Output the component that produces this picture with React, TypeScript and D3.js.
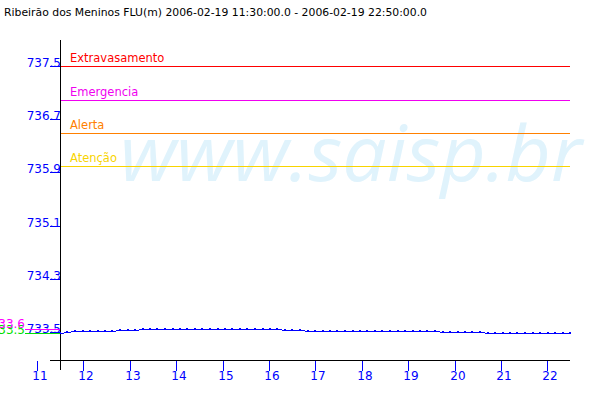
import React from "react";
import * as d3 from "d3";

const TITLE = "Ribeirão dos Meninos FLU(m) 2006-02-19 11:30:00.0 - 2006-02-19 22:50:00.0";
const WATERMARK = "www.saisp.br";

// 10-minute readings from 11:30 to 22:50
const START_HOUR = 11.5;
const STEP_HOURS = 10 / 60;
const levels: number[] = [
  733.50, 733.51,
  733.53, 733.53, 733.53, 733.53, 733.53, 733.53,
  733.55, 733.55, 733.55,
  733.56, 733.56, 733.56, 733.56, 733.56, 733.56, 733.56, 733.56, 733.56, 733.56,
  733.56, 733.56, 733.56, 733.56, 733.56, 733.56, 733.56, 733.56, 733.56,
  733.55, 733.55, 733.55,
  733.53, 733.53, 733.53, 733.53, 733.53, 733.53, 733.53, 733.53, 733.53,
  733.53, 733.53, 733.53, 733.53, 733.53, 733.53, 733.53, 733.53, 733.53,
  733.52, 733.52, 733.52, 733.52, 733.52, 733.52,
  733.50, 733.50, 733.50, 733.50, 733.50, 733.50, 733.50, 733.50, 733.50, 733.50, 733.50, 733.50,
];

const thresholdNames = ["Extravasamento", "Emergencia", "Alerta", "Atenção"];
const thresholdValues = [737.5, 737.0, 736.5, 736.0];
const thresholdColors = ["#ff0000", "#f000f0", "#ff8000", "#f8d400"];

const yTicks = [733.5, 734.3, 735.1, 735.9, 736.7, 737.5];
const xTickHours = [11, 12, 13, 14, 15, 16, 17, 18, 19, 20, 21, 22];

const FONT = "'DejaVu Sans', sans-serif";
const BLUE = "#0000ff";

export default function App() {
  const W = 600, H = 400;
  const y = d3.scaleLinear().domain([733.1, 737.9]).range([360, 40]);
  const xData = d3.scaleLinear().domain([START_HOUR, START_HOUR + STEP_HOURS * (levels.length - 1)]).range([60, 570]);
  const xTick = d3.scaleLinear().domain([11, 22]).range([37, 547.3]);

  const pts = levels.map((v, i) => ({ h: START_HOUR + i * STEP_HOURS, v }));
  const px = (h: number) => Math.round(xData(h));
  const py = (v: number) => Math.floor(y(v));
  const line = d3.line<{ h: number; v: number }>().x((d) => px(d.h) + 0.5).y((d) => py(d.v) + 0.5);

  const maxV = d3.max(levels) as number;
  const minV = d3.min(levels) as number;
  const fmt = d3.format(".1f");

  return (
    <svg width={W} height={H} style={{ position: "absolute", left: 0, top: 0, background: "#fff" }} fontFamily={FONT}>
      <rect x={0} y={0} width={W} height={H} fill="#fff" />
      <text x={4} y={16} fontSize={11} fill="#000" textLength={423} lengthAdjust="spacingAndGlyphs">{TITLE}</text>

      <text x={120} y={181} fontSize={77} fontStyle="italic" fontFamily="'Open Sans', sans-serif" fill="#e0f3fc" textLength={462} lengthAdjust="spacingAndGlyphs">{WATERMARK}</text>

      {thresholdValues.map((t, i) => {
        const row = Math.round(y(t) - 0.2);
        return (
          <g key={thresholdNames[i]}>
            <line x1={60} x2={570} y1={row + 0.5} y2={row + 0.5} stroke={thresholdColors[i]} strokeWidth={1} shapeRendering="crispEdges" />
            <text x={70} y={row - 4} fontSize={11.5} fill={thresholdColors[i]}>{thresholdNames[i]}</text>
          </g>
        );
      })}

      {/* axes */}
      <line x1={60.5} x2={60.5} y1={40} y2={370} stroke="#000" shapeRendering="crispEdges" />
      <line x1={50} x2={570} y1={360.5} y2={360.5} stroke="#000" shapeRendering="crispEdges" />

      {yTicks.map((t) => {
        const yy = Math.round(y(t));
        return (
          <g key={t}>
            <line x1={50} x2={60} y1={yy - 0.5} y2={yy - 0.5} stroke={BLUE} shapeRendering="crispEdges" />
            <text x={61} y={yy} fontSize={12} fill={BLUE} textAnchor="end">{fmt(t)}</text>
          </g>
        );
      })}

      {xTickHours.map((h) => {
        const xx = Math.round(xTick(h));
        return (
          <g key={h}>
            <line x1={xx + 0.5} x2={xx + 0.5} y1={361} y2={371} stroke={BLUE} shapeRendering="crispEdges" />
            <text x={xx + 3} y={380} fontSize={12} fill={BLUE} textAnchor="middle">{h}</text>
          </g>
        );
      })}

      {/* min / max markers */}
      <line x1={25} x2={60} y1={py(minV) + 0.5} y2={py(minV) + 0.5} stroke="#00e000" shapeRendering="crispEdges" />
      <text x={25} y={py(minV) + 1} fontSize={12} fill="#00e000" textAnchor="end">{fmt(minV)}</text>
      <line x1={25} x2={60} y1={py(maxV) + 0.5} y2={py(maxV) + 0.5} stroke="#ff00ff" shapeRendering="crispEdges" />
      <text x={25} y={py(maxV) - 1} fontSize={12} fill="#ff00ff" textAnchor="end">{fmt(maxV)}</text>

      {/* data */}
      <path d={line(pts) || ""} fill="none" stroke={BLUE} strokeWidth={1} shapeRendering="crispEdges" />
      {pts.map((d, i) => (
        <rect key={i} x={px(d.h) - 1} y={py(d.v) - 1} width={2} height={1} fill={BLUE} shapeRendering="crispEdges" />
      ))}
    </svg>
  );
}
